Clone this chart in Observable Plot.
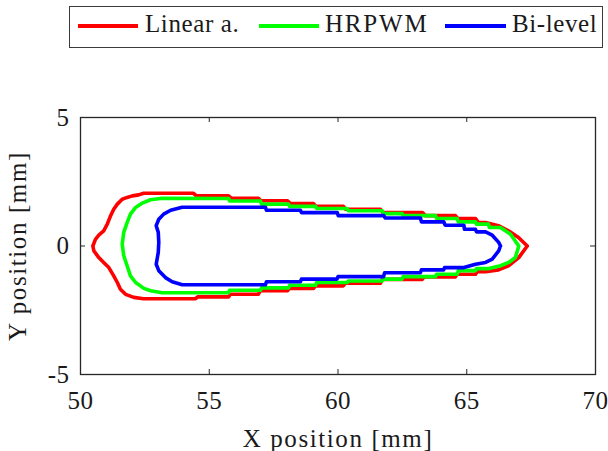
<!DOCTYPE html>
<html>
<head>
<meta charset="utf-8">
<script src="https://cdn.jsdelivr.net/npm/d3@7"></script>
<script src="https://cdn.jsdelivr.net/npm/@observablehq/plot@0.6"></script>
<style>
  html, body { margin: 0; padding: 0; background: #fff; }
  #wrap { width: 608px; height: 451px; font-family: "Liberation Serif", "Times New Roman", "DejaVu Serif", serif; color: #262626; }
  #legend { position: relative; width: 608px; height: 56px; }
  #legend .box { position: absolute; left: 69px; top: 6px; width: 532px; height: 40px; border: 1.5px solid #3a3a3a; background: #fff; }
  #legend .sw { position: absolute; height: 4px; top: 24px; }
  #legend .lb { position: absolute; top: 9px; font-size: 25px; line-height: 30px; letter-spacing: 0.6px; white-space: nowrap; color: #1a1a1a; }
  svg text { font-family: "Liberation Serif", "Times New Roman", "DejaVu Serif", serif; }
  svg g[aria-label="x-axis label"] text, svg g[aria-label="y-axis label"] text { letter-spacing: 1.6px; }
  svg g[aria-label="x-axis tick label"] text, svg g[aria-label="y-axis tick label"] text { letter-spacing: 0.5px; }
</style>
</head>
<body>
<div id="wrap">
  <div id="legend"></div>
  <div id="chart"></div>
</div>
<script>
// ---- data ----
const seriesNames = ["Linear a.", "HRPWM", "Bi-level"];
const seriesColors = ["#ff0000", "#00ff00", "#0000ff"];
const ticksX = [50, 55, 60, 65, 70];
const ticksY = [-5, 0, 5];

const redX = [67.35,67.01,66.62,66.23,65.73,65.45,65.34,64.65,64.56,63.40,63.28,61.75,61.65,60.30,60.21,59.15,59.05,58.15,58.04,57.00,56.91,55.85,55.75,54.50,54.39,52.45,52.26,52.01,51.81,51.62,51.43,51.29,51.17,51.04,50.90,50.71,50.58,50.48,50.52,50.71,50.90,51.10,51.29,51.43,51.55,51.75,52.07,52.45,54.47,54.55,55.75,55.82,56.91,56.98,58.04,58.10,59.05,59.12,60.21,60.28,61.65,61.72,63.27,63.34,64.56,64.62,65.34,65.40,65.73,66.23,66.62,67.02,67.35];
const redY = [0.00,0.33,0.59,0.79,0.91,0.91,1.07,1.07,1.18,1.18,1.30,1.30,1.43,1.43,1.54,1.54,1.65,1.65,1.76,1.76,1.86,1.86,1.95,1.95,2.05,2.05,1.99,1.95,1.89,1.82,1.63,1.43,1.18,0.85,0.59,0.42,0.26,0.00,-0.19,-0.45,-0.64,-0.84,-1.16,-1.42,-1.68,-1.88,-2.00,-2.05,-2.05,-1.98,-1.98,-1.88,-1.88,-1.74,-1.74,-1.65,-1.65,-1.55,-1.55,-1.45,-1.45,-1.30,-1.30,-1.20,-1.20,-1.10,-1.10,-1.00,-1.00,-0.93,-0.77,-0.45,0.00];

const greenX = [67.02,66.70,66.31,65.88,65.84,65.38,65.34,64.67,64.63,63.83,63.79,62.53,62.49,61.77,61.72,60.40,60.36,59.17,59.13,58.12,58.08,57.03,56.99,55.79,55.75,53.17,52.72,52.40,52.14,51.94,51.81,51.68,51.62,51.68,51.81,51.94,52.14,52.46,52.72,53.17,55.75,55.79,56.99,57.03,58.08,58.12,59.13,59.17,60.36,60.40,61.72,61.77,62.49,62.53,63.79,63.83,64.63,64.67,65.34,65.38,65.86,66.31,66.63,66.89,67.02];
const greenY = [0.00,0.46,0.72,0.72,0.85,0.85,0.94,0.94,1.07,1.07,1.18,1.18,1.26,1.26,1.37,1.37,1.46,1.46,1.54,1.54,1.63,1.63,1.75,1.75,1.85,1.86,1.80,1.67,1.50,1.24,0.91,0.53,0.07,-0.38,-0.77,-1.16,-1.42,-1.65,-1.74,-1.82,-1.82,-1.72,-1.72,-1.63,-1.63,-1.53,-1.53,-1.42,-1.42,-1.36,-1.36,-1.29,-1.29,-1.19,-1.19,-1.10,-1.10,-0.96,-0.96,-0.88,-0.88,-0.77,-0.64,-0.45,0.00];

const blueX = [66.31,66.24,65.99,65.73,65.38,65.34,64.91,64.89,64.16,64.11,63.24,63.20,61.83,61.78,60.01,59.97,58.58,58.54,57.22,57.18,53.95,53.50,53.23,53.04,52.94,53.02,53.04,53.02,52.94,53.04,53.30,53.56,53.95,57.18,57.22,58.54,58.58,59.96,60.00,61.77,61.81,63.20,63.24,64.10,64.14,64.89,65.34,65.73,65.99,66.24,66.31];
const blueY = [0.00,0.14,0.42,0.55,0.55,0.65,0.65,0.81,0.81,0.94,0.94,1.09,1.09,1.18,1.18,1.30,1.30,1.39,1.39,1.51,1.51,1.39,1.24,1.04,0.79,0.53,0.14,-0.25,-0.71,-0.96,-1.23,-1.39,-1.51,-1.51,-1.39,-1.39,-1.29,-1.29,-1.19,-1.19,-1.04,-1.04,-0.93,-0.93,-0.84,-0.84,-0.71,-0.64,-0.51,-0.19,0.00];

// ---- build table ----
const allX = [redX, greenX, blueX];
const allY = [redY, greenY, blueY];
const rows = [];
seriesNames.forEach((s, i) => {
  allX[i].forEach((x, j) => rows.push({ s, x, y: allY[i][j] }));
});

// ---- legend ----
const legend = document.getElementById("legend");
legend.innerHTML = `<div class="box"></div>`;
const swLeft = [78, 259, 445];
const swWidth = [60, 60, 61];
const lbLeft = [145, 325, 512];
seriesNames.forEach((s, i) => {
  const sw = document.createElement("div");
  sw.className = "sw";
  sw.style.left = swLeft[i] + "px";
  sw.style.width = swWidth[i] + "px";
  sw.style.background = seriesColors[i];
  legend.appendChild(sw);
  const lb = document.createElement("div");
  lb.className = "lb";
  lb.style.left = lbLeft[i] + "px";
  lb.textContent = s;
  if (s === "HRPWM") lb.style.letterSpacing = "1.8px";
  legend.appendChild(lb);
});

// ---- chart ----
const H = 395, MT = 61, MB = 77, ML = 80, MR = 13;
const innerH = H - MT - MB, innerW = 608 - ML - MR;
const axisColor = "#262626";
const FONT = '"Liberation Serif", "Times New Roman", "DejaVu Serif", serif';
const chart = Plot.plot({
  width: 608,
  height: H,
  marginTop: MT,
  marginBottom: MB,
  marginLeft: ML,
  marginRight: MR,
  style: { fontFamily: FONT, fontSize: "25px", color: "#1a1a1a", background: "#fff", overflow: "visible" },
  x: { domain: [50, 70] },
  y: { domain: [-5, 5] },
  color: { domain: seriesNames, range: seriesColors },
  marks: [
    Plot.line(rows, { x: "x", y: "y", z: "s", stroke: "s", strokeWidth: 3.6, strokeLinejoin: "round", curve: "linear" }),
    Plot.tickX(ticksX, { x: d => d, insetTop: innerH - 5, stroke: axisColor, strokeWidth: 1 }),
    Plot.tickX(ticksX, { x: d => d, insetBottom: innerH - 5, stroke: axisColor, strokeWidth: 1 }),
    Plot.tickY(ticksY, { y: d => d, insetRight: innerW - 5, stroke: axisColor, strokeWidth: 1 }),
    Plot.tickY(ticksY, { y: d => d, insetLeft: innerW - 5, stroke: axisColor, strokeWidth: 1 }),
    Plot.frame({ stroke: axisColor, strokeWidth: 1.3 }),
    Plot.axisX({ ticks: ticksX, tickSize: 0, tickPadding: 17, tickFormat: d => String(d), label: "X position [mm]", labelAnchor: "center", labelArrow: "none", labelOffset: 72, fontFamily: FONT }),
    Plot.axisY({ ticks: ticksY, tickSize: 0, tickPadding: 11, tickFormat: d => String(d), label: "Y position [mm]", labelAnchor: "center", labelArrow: "none", labelOffset: 72, fontFamily: FONT })
  ]
});
document.getElementById("chart").appendChild(chart);
</script>
</body>
</html>
